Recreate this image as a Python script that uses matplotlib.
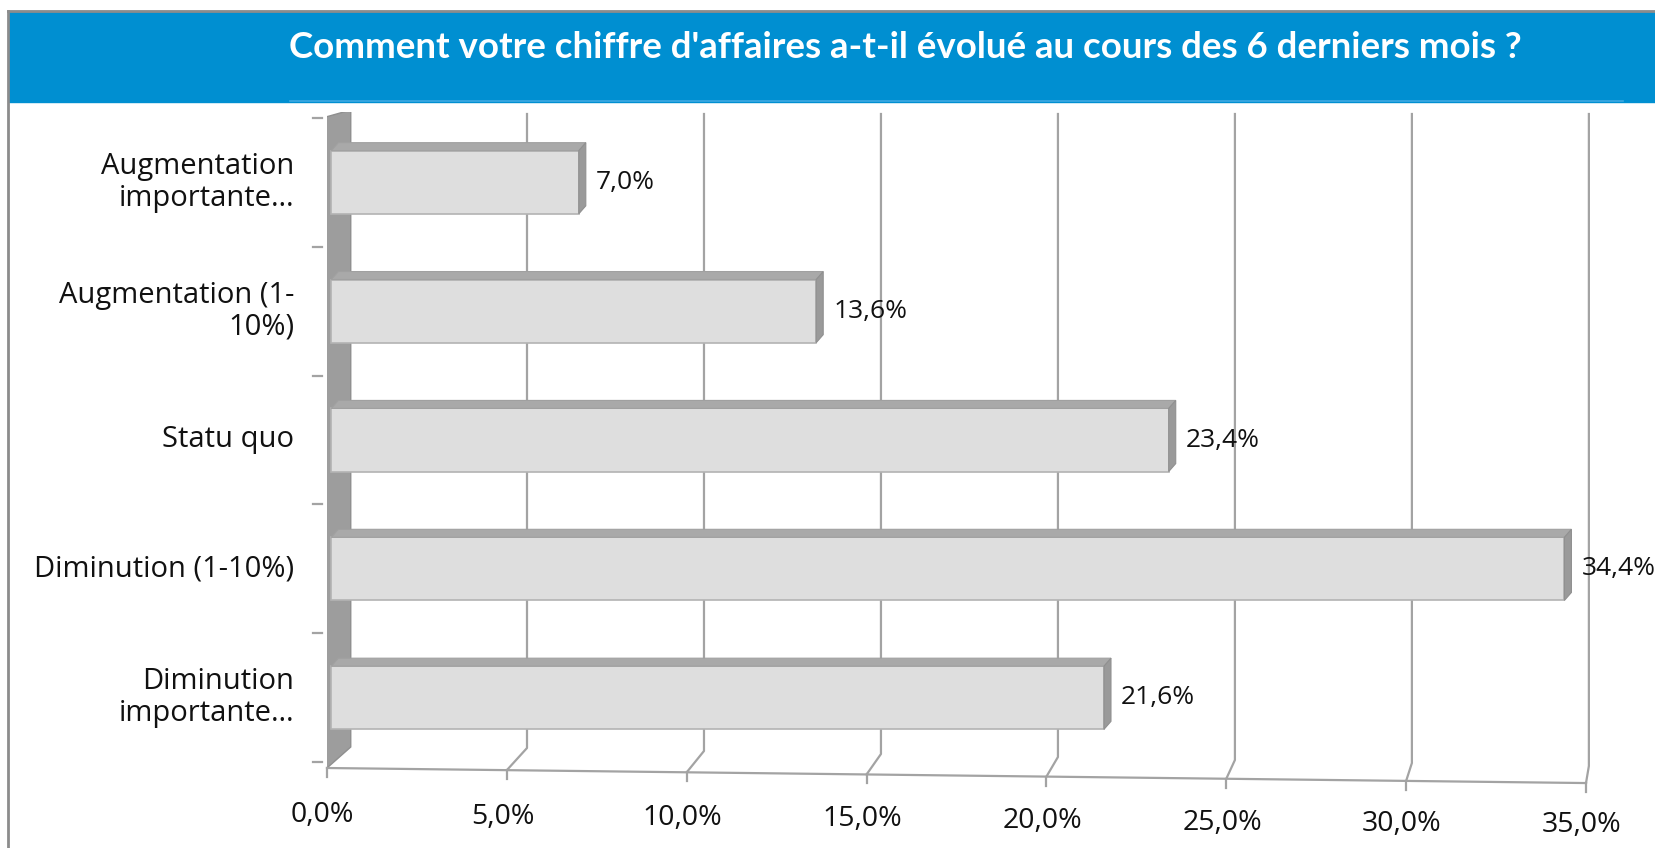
import matplotlib
matplotlib.use("Agg")
import matplotlib.pyplot as plt
from matplotlib.patches import Polygon, Rectangle
from matplotlib.lines import Line2D
from matplotlib.transforms import blended_transform_factory
import numpy as np

# ---------------- data ----------------
categories = ["Augmentation\nimportante…", "Augmentation (1-\n10%)", "Statu quo",
              "Diminution (1-10%)", "Diminution\nimportante…"]
values = [7.0, 13.6, 23.4, 34.4, 21.6]
value_labels = ["7,0%", "13,6%", "23,4%", "34,4%", "21,6%"]
x_ticks = [0, 5, 10, 15, 20, 25, 30, 35]
x_tick_labels = ["0,0%", "5,0%", "10,0%", "15,0%", "20,0%", "25,0%", "30,0%", "35,0%"]
title = "Comment votre chiffre d'affaires a-t-il évolué au cours des 6 derniers mois ?"

TITLE_FONT = "Lato"
FONT = "Open Sans"
W, H = 1656, 848
fig = plt.figure(figsize=(W / 100, H / 100), dpi=100)
fig.patch.set_facecolor("white")


def fx(px):
    return px / W


def fy(py):
    return 1 - py / H


# title banner and frame
fig.patches.append(Rectangle((fx(9), fy(102)), 1 - fx(9), (102 - 11) / H,
                             transform=fig.transFigure, color="#008fd1", zorder=1))
fig.add_artist(Line2D([fx(8), 1], [fy(10.5), fy(10.5)], color="#8c8c8c", lw=2))
fig.add_artist(Line2D([fx(8), fx(8)], [fy(10.5), 0], color="#8c8c8c", lw=2))
fig.add_artist(Line2D([fx(290), fx(1623)], [fy(101), fy(101)], color="#3ea9e2", lw=1.2))
fig.text(fx(905), fy(47), title, color="white", fontsize=26.4, fontweight="bold",
         family=TITLE_FONT, ha="center", va="center")

# plot axes (front plane)
AX_L, AX_R, AX_T, AX_B = 327, 1586, 112, 768
ax = fig.add_axes([fx(AX_L), fy(AX_B), (AX_R - AX_L) / W, (AX_B - AX_T) / H])
ax.set_xlim(0, 35)
ax.set_ylim(4.545, -0.545)
ax.set_axis_off()
tr = blended_transform_factory(ax.transData, ax.transAxes)


def ya(py):
    return (AX_B - py) / (AX_B - AX_T)


SX = (AX_R - AX_L) / 35.0           # pixels per percent
SY = (AX_B - AX_T) / 5.09           # pixels per category unit
GRID = "#a3a3a3"

# side wall
wall = Polygon([(-0.13, ya(118)), (0.66, ya(110)), (0.66, ya(747)), (0.0, ya(768)), (-0.13, ya(768))],
               closed=True, transform=tr, facecolor="#9d9d9d", edgecolor="#8f8f8f", lw=1, zorder=1)
ax.add_patch(wall)

# gridlines (back plane with perspective leg to front)
for v in x_ticks[1:]:
    xb = 0.64 + 0.984 * v
    ax.plot([xb, xb, v], [ya(114), ya(745 + 0.6 * v), ya(768 + 0.43 * v)],
            transform=tr, color=GRID, lw=1.6, zorder=0.5, clip_on=False)
# floor front edge and ticks
ax.plot([0, 35], [ya(768), ya(768 + 0.43 * 35)], transform=tr, color=GRID, lw=1.6, clip_on=False)
for v, lab in zip(x_ticks, x_tick_labels):
    yb = 768 + 0.43 * v
    ax.plot([v, v], [ya(yb), ya(yb + 9)], transform=tr, color=GRID, lw=1.6, clip_on=False)
    ax.text(v - 0.12, ya(815 + 0.3 * v), lab, transform=tr, ha="center", va="center",
            fontsize=20.5, family=FONT, color="#111111")

# category boundary ticks at left
for b in np.arange(-0.5, 5.0, 1.0):
    ax.plot([-0.39, -0.13], [b, b], color=GRID, lw=1.6, clip_on=False)

# bars with 3-D faces
h = 0.49
x0 = 0.12
ddx = 7 / SX
ddy = 8 / SY
y_pos = np.arange(len(values))
ax.barh(y_pos, np.array(values) - x0, left=x0, height=h, color="#dedede",
        edgecolor="#b3b3b3", lw=1.2, zorder=3)
for i, v in enumerate(values):
    yt, yb = i - h / 2, i + h / 2
    top = Polygon([(x0, yt), (v, yt), (v + ddx, yt - ddy), (x0 + ddx, yt - ddy)],
                  closed=True, facecolor="#a9a9a9", edgecolor="#a0a0a0", lw=0.8, zorder=3)
    side = Polygon([(v, yt), (v + ddx, yt - ddy), (v + ddx, yb - ddy), (v, yb)],
                   closed=True, facecolor="#9a9a9a", edgecolor="#909090", lw=0.8, zorder=3)
    ax.add_patch(top)
    ax.add_patch(side)
    ax.annotate(value_labels[i], (v, i), xytext=(17, 0), textcoords="offset pixels",
                ha="left", va="center", fontsize=19, family=FONT, color="#111111",
                annotation_clip=False, zorder=4)

# category labels
for i, lab in enumerate(categories):
    ax.annotate(lab, (0, i), xytext=(-33, 0), textcoords="offset pixels",
                ha="right", va="center", multialignment="right", fontsize=21,
                family=FONT, color="#111111", linespacing=1.12, annotation_clip=False)

fig.savefig("out.png", dpi=100, facecolor="white")
